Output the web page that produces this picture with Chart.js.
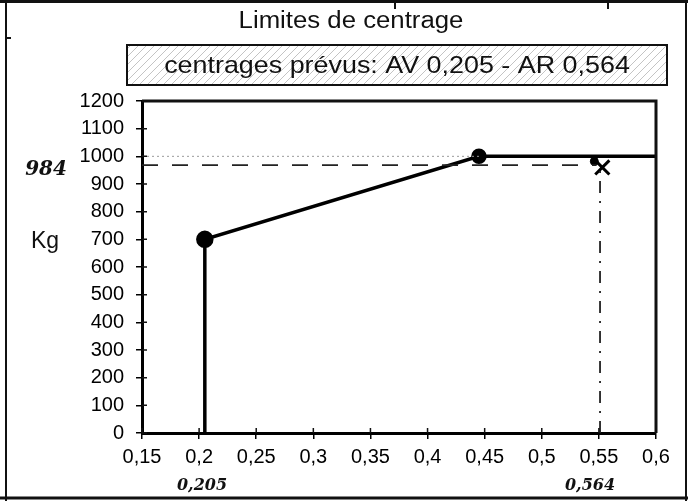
<!DOCTYPE html>
<html>
<head>
<meta charset="utf-8">
<script src="https://cdn.jsdelivr.net/npm/chart.js@4"></script>
<style>
  html, body { margin: 0; padding: 0; background: #fff; }
  canvas { display: block; }
</style>
</head>
<body>
<canvas id="c" width="688" height="501"></canvas>
<script>
// limites de centrage (bras de levier en m, masse en kg)
const limitX = [0.205, 0.205, 0.445, 0.6];
const limitY = [0, 700, 1000, 1000];
// annotations faites a la main sur le document
const massLineX = [0.15, 0.548];
const massLineY = [968, 968];
const rearLineX = [0.551, 0.551];
const rearLineY = [0, 968];
const refLineX = [0.15, 0.445];
const refLineY = [1000, 1000];
const crossX = [0.553];
const crossY = [960];
const dotX = [0.546];
const dotY = [982];
const handNotes = ['984', '0,205', '0,564'];
const titleText = 'Limites de centrage';
const boxText = 'centrages prévus: AV 0,205 - AR 0,564';
const yLabel = 'Kg';

const pts = (xs, ys) => xs.map((x, i) => ({ x: x, y: ys[i] }));
const fmt = v => String(parseFloat(Number(v).toFixed(2))).replace('.', ',');

function hatch() {
  const p = document.createElement('canvas');
  p.width = 8; p.height = 8;
  const g = p.getContext('2d');
  g.fillStyle = '#fff';
  g.fillRect(0, 0, 8, 8);
  g.strokeStyle = '#b5b5b5';
  g.lineWidth = 0.8;
  g.beginPath();
  g.moveTo(0, 8); g.lineTo(8, 0);
  g.stroke();
  return p;
}

const decor = {
  id: 'decor',
  beforeDraw(chart) {
    const ctx = chart.ctx;
    ctx.save();
    ctx.fillStyle = '#fff';
    ctx.fillRect(0, 0, chart.width, chart.height);
    ctx.restore();
  },
  afterDraw(chart) {
    const ctx = chart.ctx;
    const a = chart.chartArea;
    const xs = chart.scales.x, ys = chart.scales.y;
    ctx.save();
    ctx.strokeStyle = '#111';

    // cadre de la page
    ctx.lineWidth = 3;
    ctx.beginPath();
    ctx.moveTo(0, 1.5); ctx.lineTo(688, 1.5);
    ctx.moveTo(0, 498); ctx.lineTo(688, 498);
    ctx.stroke();
    ctx.lineWidth = 2;
    ctx.beginPath();
    ctx.moveTo(6, 0); ctx.lineTo(6, 501);
    ctx.moveTo(686, 0); ctx.lineTo(686, 501);
    ctx.moveTo(395, 0); ctx.lineTo(395, 9);
    ctx.moveTo(608, 0); ctx.lineTo(608, 9);
    ctx.moveTo(6, 38); ctx.lineTo(11, 38);
    ctx.stroke();

    // titre
    ctx.fillStyle = '#111';
    ctx.textAlign = 'center';
    ctx.textBaseline = 'middle';
    ctx.save();
    ctx.translate(351, 22);
    ctx.scale(1.12, 1);
    ctx.font = '23px "Liberation Sans", Arial, sans-serif';
    ctx.fillText(titleText, 0, 0);
    ctx.restore();

    // encadre hachure
    ctx.fillStyle = ctx.createPattern(hatch(), 'repeat');
    ctx.fillRect(127, 45, 540, 40);
    ctx.lineWidth = 2;
    ctx.strokeRect(127, 45, 540, 40);
    ctx.fillStyle = '#111';
    ctx.save();
    ctx.translate(397, 66);
    ctx.scale(1.12, 1);
    ctx.font = '24px "Liberation Sans", Arial, sans-serif';
    ctx.fillText(boxText, 0, 0);
    ctx.restore();

    // titre axe
    ctx.font = '23px "Liberation Sans", Arial, sans-serif';
    ctx.fillText(yLabel, 45, 242);

    // bord haut et droit de la zone de trace
    ctx.lineWidth = 3;
    ctx.beginPath();
    ctx.moveTo(a.left, a.top); ctx.lineTo(a.right, a.top); ctx.lineTo(a.right, a.bottom);
    ctx.stroke();

    // graduations croisees cote interieur
    ctx.lineWidth = 1.5;
    ctx.beginPath();
    ys.ticks.forEach(t => {
      const y = ys.getPixelForValue(t.value);
      ctx.moveTo(a.left, y); ctx.lineTo(a.left + 5, y);
    });
    xs.ticks.forEach(t => {
      const x = xs.getPixelForValue(t.value);
      ctx.moveTo(x, a.bottom); ctx.lineTo(x, a.bottom - 5);
    });
    ctx.stroke();

    // notes manuscrites
    ctx.font = 'italic bold 20px "DejaVu Serif", serif';
    ctx.fillText(handNotes[0], 46, 170);
    ctx.font = 'italic bold 16px "DejaVu Serif", serif';
    ctx.fillText(handNotes[1], 202, 486);
    ctx.fillText(handNotes[2], 590, 486);
    ctx.restore();
  }
};

new Chart(document.getElementById('c'), {
  type: 'scatter',
  data: {
    datasets: [
      {
        data: pts(refLineX, refLineY),
        showLine: true,
        borderColor: '#9a9a9a',
        borderWidth: 1,
        borderDash: [2, 3],
        pointRadius: 0
      },
      {
        data: pts(massLineX, massLineY),
        showLine: true,
        borderColor: '#222',
        borderWidth: 1.8,
        borderDash: [16, 14],
        pointRadius: 0
      },
      {
        data: pts(rearLineX, rearLineY),
        showLine: true,
        borderColor: '#222',
        borderWidth: 1.8,
        borderDash: [12, 8, 2, 8],
        pointRadius: 0
      },
      {
        data: pts(limitX, limitY),
        showLine: true,
        borderColor: '#000',
        borderWidth: 3.5,
        pointRadius: [0, 7, 6, 0],
        pointBackgroundColor: '#000',
        pointBorderColor: '#000'
      },
      {
        data: pts(crossX, crossY),
        pointStyle: 'crossRot',
        pointRadius: 10,
        pointBorderWidth: 3,
        pointBorderColor: '#000'
      },
      {
        data: pts(dotX, dotY),
        pointRadius: 4,
        pointBackgroundColor: '#000',
        pointBorderColor: '#000'
      }
    ]
  },
  options: {
    responsive: false,
    animation: false,
    events: [],
    layout: { padding: { top: 101, right: 32, left: 0, bottom: 0 } },
    plugins: {
      legend: { display: false },
      tooltip: { enabled: false },
      title: { display: false }
    },
    scales: {
      x: {
        type: 'linear',
        min: 0.15,
        max: 0.6,
        afterFit: s => { s.height = 68; },
        afterBuildTicks: s => {
          s.ticks = [];
          for (let i = 0; i <= 9; i++) s.ticks.push({ value: +(0.15 + i * 0.05).toFixed(2) });
        },
        border: { display: true, color: '#000', width: 3 },
        grid: { display: true, drawOnChartArea: false, color: '#000', lineWidth: 1.5, tickLength: 6 },
        ticks: {
          color: '#000',
          padding: 6,
          font: { family: '"Liberation Sans", Arial, sans-serif', size: 20 },
          callback: v => fmt(v)
        }
      },
      y: {
        min: 0,
        max: 1200,
        afterFit: s => { s.width = 142; },
        border: { display: true, color: '#000', width: 3 },
        grid: { display: true, drawOnChartArea: false, color: '#000', lineWidth: 1.5, tickLength: 6 },
        ticks: {
          stepSize: 100,
          color: '#000',
          padding: 12,
          font: { family: '"Liberation Sans", Arial, sans-serif', size: 20 },
          callback: v => fmt(v)
        }
      }
    }
  },
  plugins: [decor]
});
</script>
</body>
</html>
